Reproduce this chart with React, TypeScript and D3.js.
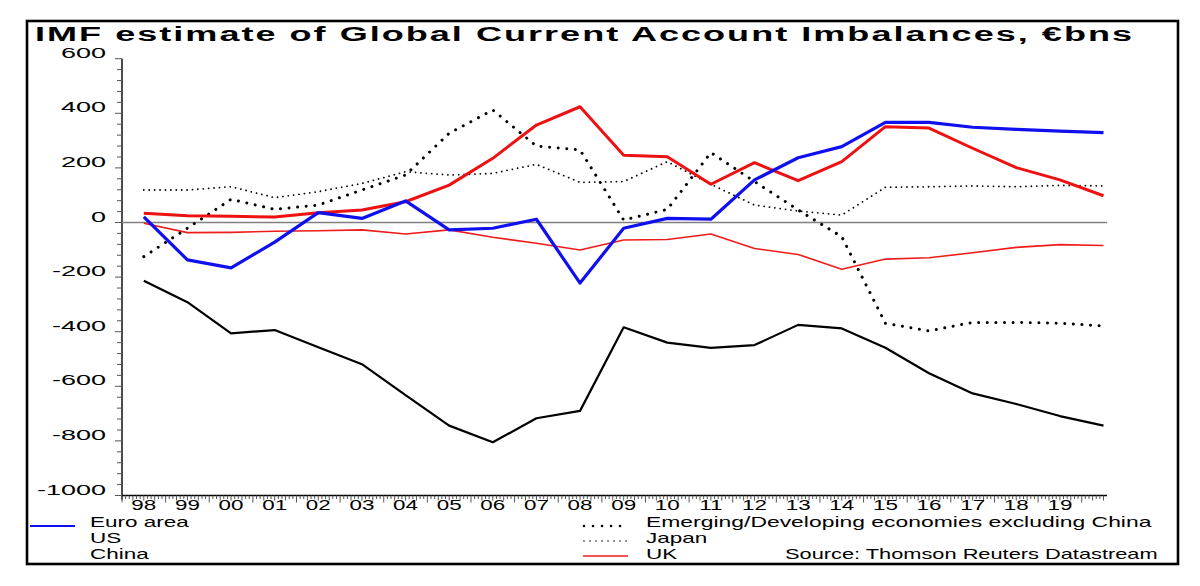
import React from 'react';
import * as d3 from 'd3';

const years = [1998, 1999, 2000, 2001, 2002, 2003, 2004, 2005, 2006, 2007, 2008, 2009, 2010, 2011, 2012, 2013, 2014, 2015, 2016, 2017, 2018, 2019, 2020];
const yearLabels = ['98', '99', '00', '01', '02', '03', '04', '05', '06', '07', '08', '09', '10', '11', '12', '13', '14', '15', '16', '17', '18', '19'];

const euroArea = [21, -137, -166, -72, 36, 15, 79, -27, -21, 12, -222, -21, 15, 12, 156, 237, 278, 367, 367, 349, 341, 335, 329];
const us = [-213, -292, -406, -394, -457, -519, -632, -744, -805, -717, -690, -384, -440, -459, -449, -375, -388, -459, -552, -626, -665, -709, -744];
const china = [34, 25, 23, 20, 36, 46, 76, 137, 235, 357, 424, 246, 241, 140, 219, 153, 223, 351, 346, 272, 201, 156, 98];
const emerging = [-125, -21, 85, 48, 64, 119, 174, 327, 412, 280, 266, 9, 48, 256, 150, 46, -52, -369, -397, -366, -366, -369, -379];
const japan = [119, 119, 131, 91, 113, 143, 186, 174, 180, 213, 147, 150, 223, 140, 64, 42, 27, 129, 131, 134, 131, 136, 134];
const uk = [-3, -37, -36, -32, -30, -27, -42, -27, -54, -76, -101, -64, -62, -42, -95, -117, -171, -134, -129, -111, -91, -81, -84];

const yTicks = [600, 400, 200, 0, -200, -400, -600, -800, -1000];

const FONT = "'Liberation Sans', Arial, sans-serif";

export default function App() {
  const W = 1200, H = 586;
  const x = d3.scaleLinear().domain([1998, 2020.58]).range([122, 1107]);
  const y = d3.scaleLinear().domain([-1000, 600]).range([495.5, 58.7]);

  const line = d3.line<number>()
    .x((_, i) => x(years[i] + 0.5))
    .y((d) => y(d));

  const minorY = d3.range(-1000, 601, 40);
  const monthTicks: number[] = [];
  for (let m = 0; m <= Math.floor((2020.58 - 1998) * 12); m++) monthTicks.push(1998 + m / 12);

  const series = [
    { name: 'UK', data: uk, color: '#ee1c1c', width: 1.6, dash: undefined as string | undefined, cap: 'butt' },
    { name: 'Japan', data: japan, color: '#000', width: 1.8, dash: '0.01 5.4', cap: 'round' },
    { name: 'Emerging', data: emerging, color: '#000', width: 3, dash: '0.01 8.6', cap: 'round' },
    { name: 'US', data: us, color: '#000', width: 2.2, dash: undefined, cap: 'butt' },
    { name: 'China', data: china, color: '#ee1111', width: 3, dash: undefined, cap: 'butt' },
    { name: 'Euro area', data: euroArea, color: '#1010ee', width: 3.2, dash: undefined, cap: 'butt' },
  ];

  const legendText = (tx: number, ty: number, s: string, sx = 1.63) => (
    <text transform={`translate(${tx},${ty}) scale(${sx},1)`} fontSize={13.8} fontFamily={FONT} fill="#000">{s}</text>
  );

  return (
    <svg width={W} height={H} style={{ position: 'absolute', left: 0, top: 0, background: '#fff' }}>
      <rect x={0} y={0} width={W} height={H} fill="#fff" />
      <rect x={27} y={21} width={1151} height={543} fill="none" stroke="#000" strokeWidth={2.6} />
      <text transform="translate(35,40.5) scale(1.85,1)" fontSize={19.5} fontWeight="bold" fontFamily={FONT}
        textLength={593} lengthAdjust="spacing">IMF estimate of Global Current Account Imbalances, €bns</text>

      {/* y axis */}
      <line x1={122} x2={122} y1={y(600)} y2={y(-1000) + 4} stroke="#000" strokeWidth={1.4} />
      {minorY.map((v) => (
        <line key={'my' + v} x1={v % 200 === 0 ? 115 : 117} x2={122} y1={y(v)} y2={y(v)} stroke="#555" strokeWidth={1} />
      ))}
      {yTicks.map((v) => (
        <text key={'yl' + v} transform={`translate(106,${y(v) - 1}) scale(1.8,1)`} textAnchor="end"
          fontSize={15} fontFamily={FONT} fill="#000">{v}</text>
      ))}

      {/* x axis */}
      <line x1={122} x2={1107} y1={y(-1000)} y2={y(-1000)} stroke="#000" strokeWidth={1.4} />
      {monthTicks.map((t, i) => (
        <line key={'mx' + i} x1={x(t)} x2={x(t)} y1={y(-1000)} y2={y(-1000) + (i % 12 === 0 ? 7 : i % 3 === 0 ? 5 : 3.5)}
          stroke="#555" strokeWidth={1} />
      ))}
      {yearLabels.map((l, i) => (
        <text key={'xl' + l} transform={`translate(${x(years[i] + 0.5)},510) scale(1.6,1)`} textAnchor="middle"
          fontSize={14} fontFamily={FONT} fill="#000">{l}</text>
      ))}

      {/* zero line */}
      <line x1={122} x2={1107} y1={y(0)} y2={y(0)} stroke="#808080" strokeWidth={1.5} />

      {series.map((s) => (
        <path key={s.name} d={line(s.data) || ''} fill="none" stroke={s.color} strokeWidth={s.width}
          strokeDasharray={s.dash} strokeLinecap={s.cap as any} strokeLinejoin="round" />
      ))}

      {/* legend */}
      <line x1={30} x2={75} y1={526} y2={526} stroke="#1010ee" strokeWidth={2} />
      {legendText(90, 527, 'Euro area')}
      {legendText(90, 543, 'US')}
      {legendText(90, 559, 'China')}

      <line x1={584} x2={622} y1={526} y2={526} stroke="#000" strokeWidth={2.6} strokeDasharray="0.01 9" strokeLinecap="round" />
      <line x1={584} x2={627} y1={541} y2={541} stroke="#000" strokeWidth={1.6} strokeDasharray="0.01 6" strokeLinecap="round" />
      <line x1={583} x2={628} y1={556} y2={556} stroke="#ee1c1c" strokeWidth={1.6} />
      {legendText(646, 527, 'Emerging/Developing economies excluding China', 1.66)}
      {legendText(646, 543, 'Japan')}
      {legendText(646, 559, 'UK')}
      {legendText(785, 559, 'Source: Thomson Reuters Datastream', 1.58)}
    </svg>
  );
}
